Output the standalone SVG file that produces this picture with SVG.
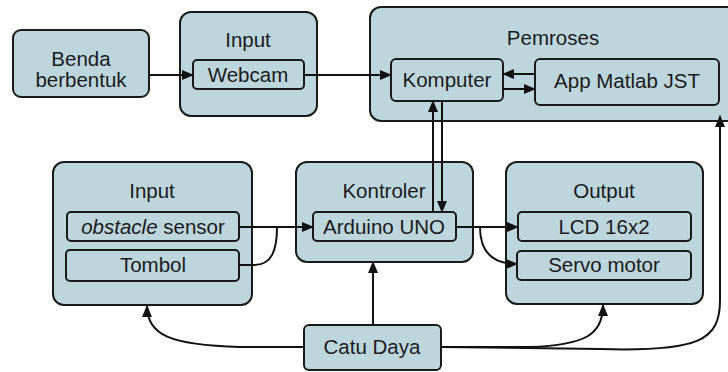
<svg xmlns="http://www.w3.org/2000/svg" width="728" height="372" viewBox="0 0 728 372">
<style>
.box{fill:#bdd6de;stroke:#1a1a1a;stroke-width:2}
.in{fill:#bdd6de;stroke:#1a1a1a;stroke-width:2}
text{font-family:"Liberation Sans",Arial,sans-serif;font-size:20.5px;fill:#1a1a1a;text-anchor:middle}
.c{fill:none;stroke:#111;stroke-width:2}
</style>
<defs>
<marker id="ah" markerUnits="userSpaceOnUse" markerWidth="12" markerHeight="10" refX="11" refY="5" orient="auto">
<path d="M0,0 L12,5 L0,10 Z" fill="#111"/>
</marker>
</defs>
<rect width="728" height="372" fill="#fff"/>
<g id="benda">
<rect class="box" x="13" y="30" width="136" height="67" rx="8"/>
<text x="81" y="66">Benda</text>
<text x="81" y="87">berbentuk</text>
</g>
<g id="input-top">
<rect class="box" x="180" y="12" width="137" height="104" rx="11"/>
<text x="248" y="47">Input</text>
<rect class="in" x="193" y="60" width="111" height="29" rx="4"/>
<text x="248" y="82">Webcam</text>
</g>
<g id="pemroses">
<rect class="box" x="370" y="7" width="372" height="114" rx="11"/>
<text x="553" y="45">Pemroses</text>
<rect class="in" x="391" y="59" width="112" height="42" rx="5"/>
<text x="447" y="87">Komputer</text>
<rect class="in" x="535" y="59" width="184" height="46" rx="5"/>
<text x="627" y="88">App Matlab JST</text>
</g>
<g id="input-bottom">
<rect class="box" x="53" y="162" width="199" height="143" rx="11"/>
<text x="152" y="198">Input</text>
<rect class="in" x="67" y="212" width="172" height="29" rx="4"/>
<text x="153" y="234"><tspan font-style="italic">obstacle</tspan> sensor</text>
<rect class="in" x="66" y="250" width="173" height="31" rx="4"/>
<text x="153" y="272">Tombol</text>
</g>
<g id="kontroler">
<rect class="box" x="296" y="162" width="177" height="100" rx="11"/>
<text x="384" y="198">Kontroler</text>
<rect class="in" x="313" y="212" width="143" height="29" rx="4"/>
<text x="384" y="234">Arduino UNO</text>
</g>
<g id="output">
<rect class="box" x="506" y="162" width="197" height="142" rx="11"/>
<text x="604" y="198">Output</text>
<rect class="in" x="518" y="212" width="173" height="29" rx="4"/>
<text x="604" y="234">LCD 16x2</text>
<rect class="in" x="517" y="251" width="174" height="29" rx="4"/>
<text x="604" y="272">Servo motor</text>
</g>
<g id="catu-daya">
<rect class="box" x="304" y="325" width="137" height="45" rx="5"/>
<text x="372" y="354">Catu Daya</text>
</g>
<g id="connectors">
<path class="c" d="M149,75 L193,75" marker-end="url(#ah)"/>
<path class="c" d="M304,75 L391,75" marker-end="url(#ah)"/>
<path class="c" d="M535,74 L503,74" marker-end="url(#ah)"/>
<path class="c" d="M503,89 L535,89" marker-end="url(#ah)"/>
<path class="c" d="M433,212 L433,101" marker-end="url(#ah)"/>
<path class="c" d="M442,101 L442,212" marker-end="url(#ah)"/>
<path class="c" d="M239,227 L313,227" marker-end="url(#ah)"/>
<path class="c" d="M239,265 L254,265 C272,265 277,250 277,227"/>
<path class="c" d="M456,227 L518,227" marker-end="url(#ah)"/>
<path class="c" d="M480,227 C480,252 492,264 517,264" marker-end="url(#ah)"/>
<path class="c" d="M373,325 L373,262" marker-end="url(#ah)"/>
<path class="c" d="M304,347 L240,347 C170,345 147,335 147,306" marker-end="url(#ah)"/>
<path class="c" d="M441,347 L530,347 C585,345 603,335 603,305" marker-end="url(#ah)"/>
<path class="c" d="M441,347 L600,349 C700,352 720,340 720,300 L720,116" marker-end="url(#ah)"/>
</g>
</svg>
